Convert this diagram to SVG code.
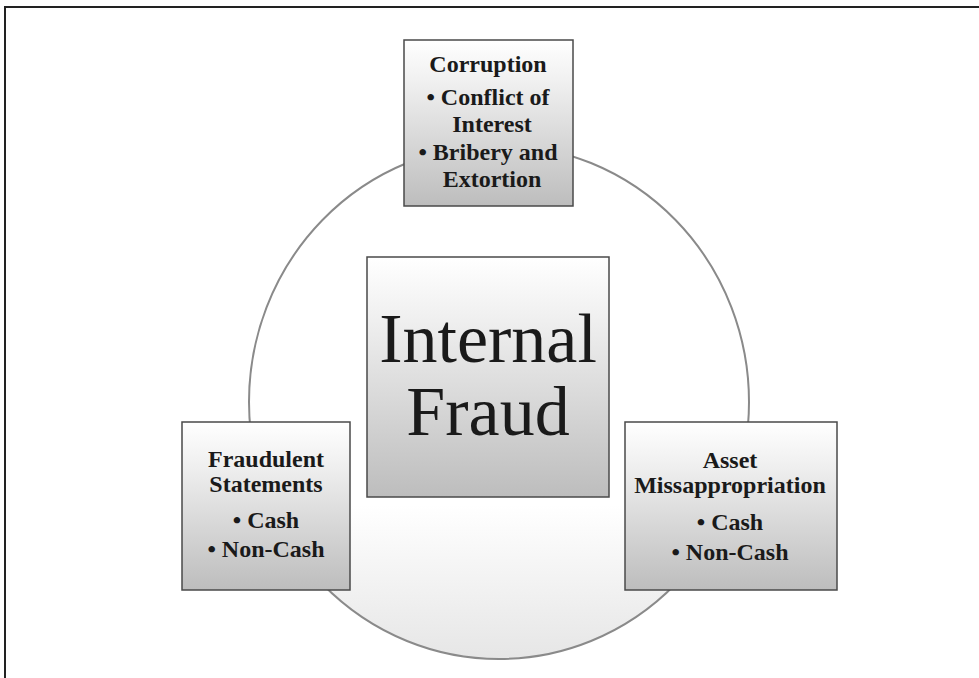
<svg xmlns="http://www.w3.org/2000/svg" width="979" height="678" viewBox="0 0 979 678">
<style>
  .box { stroke: #4a4a4a; stroke-width: 1.5; fill: url(#boxGrad); }
  .t { font-family: "Liberation Serif", "Times New Roman", serif; font-weight: bold; font-size: 24px; fill: #1a1a1a; text-anchor: middle; }
  .big { font-family: "Liberation Serif", "Times New Roman", serif; font-size: 70px; fill: #1a1a1a; text-anchor: middle; }
  .ring { fill: url(#ringGrad); stroke: #8a8a8a; stroke-width: 2; }
  .frame { stroke: #222; stroke-width: 2; fill: none; }
</style>
<defs>
  <linearGradient id="boxGrad" x1="0" y1="0" x2="0" y2="1">
    <stop offset="0" stop-color="#ffffff"/>
    <stop offset="0.25" stop-color="#f0f0f0"/>
    <stop offset="1" stop-color="#bdbdbd"/>
  </linearGradient>
  <linearGradient id="ringGrad" x1="0" y1="0" x2="0" y2="1">
    <stop offset="0" stop-color="#ffffff"/>
    <stop offset="0.7" stop-color="#ffffff"/>
    <stop offset="1" stop-color="#e6e6e6"/>
  </linearGradient>
</defs>
<rect x="0" y="0" width="979" height="678" fill="#ffffff"/>
<path class="frame" d="M5,678 V7 H979"/>

<g id="connectors">
  <ellipse class="ring" cx="499" cy="402" rx="250" ry="257"/>
</g>

<g id="internal-fraud">
  <rect class="box" x="367" y="257" width="242" height="240"/>
  <text class="big" x="488" y="362">Internal</text>
  <text class="big" x="488" y="435">Fraud</text>
</g>

<g id="corruption">
  <rect class="box" x="404" y="40" width="169" height="166"/>
  <text class="t" x="488" y="72">Corruption</text>
  <text class="t" x="488" y="105">• Conflict of</text>
  <text class="t" x="492" y="132">Interest</text>
  <text class="t" x="488" y="160">• Bribery and</text>
  <text class="t" x="492" y="187">Extortion</text>
</g>

<g id="fraudulent-statements">
  <rect class="box" x="182" y="422" width="168" height="168"/>
  <text class="t" x="266" y="467">Fraudulent</text>
  <text class="t" x="266" y="492">Statements</text>
  <text class="t" x="266" y="528">• Cash</text>
  <text class="t" x="266" y="557">• Non-Cash</text>
</g>

<g id="asset-misappropriation">
  <rect class="box" x="625" y="422" width="212" height="168"/>
  <text class="t" x="730" y="468">Asset</text>
  <text class="t" x="730" y="493">Missappropriation</text>
  <text class="t" x="730" y="530">• Cash</text>
  <text class="t" x="730" y="560">• Non-Cash</text>
</g>
</svg>
